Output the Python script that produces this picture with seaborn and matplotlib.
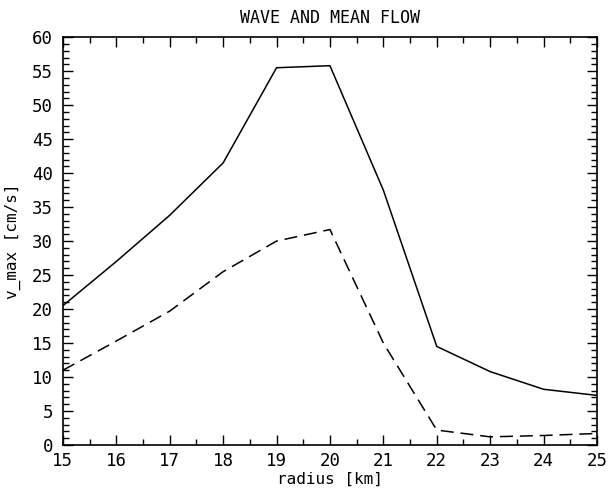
import numpy as np
import pandas as pd
import matplotlib
matplotlib.use("Agg")
import matplotlib.pyplot as plt
import seaborn as sns
from matplotlib.ticker import MultipleLocator

radius = [15, 16, 17, 18, 19, 20, 21, 22, 23, 24, 25]
wave = [20.5, 27.0, 33.8, 41.5, 55.5, 55.8, 37.5, 14.5, 10.8, 8.2, 7.3]
mean_flow = [11.0, 15.3, 19.7, 25.5, 30.0, 31.7, 15.0, 2.2, 1.2, 1.4, 1.7]

df = pd.DataFrame({"radius": radius + radius,
                   "v_max": wave + mean_flow,
                   "series": ["wave"] * len(radius) + ["mean"] * len(radius)})

sns.set_style("ticks")
plt.rcParams['font.family'] = ['DejaVu Sans Mono']
plt.rcParams['text.color'] = 'black'
plt.rcParams['axes.labelcolor'] = 'black'
plt.rcParams['xtick.color'] = 'black'
plt.rcParams['ytick.color'] = 'black'

fig = plt.figure(figsize=(6.11, 4.92), dpi=100)
ax = fig.add_axes([0.103, 0.0955, 0.874, 0.829])

sns.lineplot(data=df, x="radius", y="v_max", style="series",
             dashes={"wave": "", "mean": (8.5, 4.5)}, color="black",
             linewidth=1.1, legend=False, ax=ax)

ax.set_xlim(15, 25)
ax.set_ylim(0, 60)
ax.xaxis.set_major_locator(MultipleLocator(1))
ax.xaxis.set_minor_locator(MultipleLocator(0.5))
ax.yaxis.set_major_locator(MultipleLocator(5))
ax.yaxis.set_minor_locator(MultipleLocator(1))
ax.tick_params(which="both", direction="in", top=True, right=True,
               color="black", width=1)
ax.tick_params(which="major", length=7, labelsize=12.5)
ax.tick_params(axis="x", which="major", pad=5)
ax.tick_params(axis="y", which="major", pad=7)
ax.tick_params(which="minor", length=4)
for s in ax.spines.values():
    s.set_linewidth(1.2)
    s.set_color("black")

ax.set_title("WAVE AND MEAN FLOW", fontsize=12, pad=10)
ax.set_xlabel("radius [km]", fontsize=11.5, labelpad=1)
ax.set_ylabel("v_max [cm/s]", fontsize=11.5, labelpad=8)

fig.savefig("out.png", dpi=100)
